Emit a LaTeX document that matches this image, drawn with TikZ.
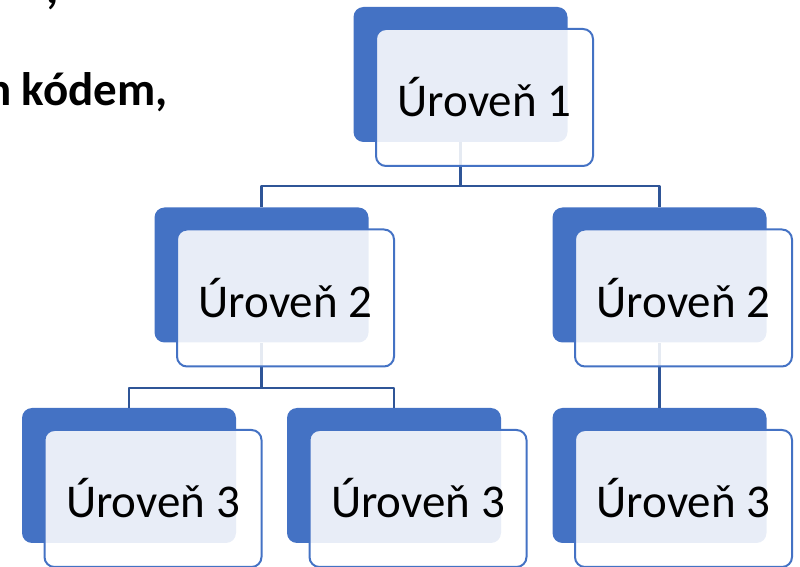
\documentclass[tikz,border=0pt]{standalone}
\usepackage{fontspec}
\setmainfont{Carlito}
\definecolor{modra}{HTML}{4472C4}
\definecolor{tmavomodra}{HTML}{2F5597}
\begin{document}
\begin{tikzpicture}[x=0.5pt, y=-0.5pt, line join=round, font=\fontsize{23.5}{28}\selectfont,
    zadni/.style={fill=modra, rounded corners=5pt, minimum width=107pt, minimum height=67.5pt, inner sep=0pt},
    predni/.style={draw=modra, line width=1pt, fill=white, fill opacity=0.88, text opacity=1,
        rounded corners=5pt, minimum width=108.5pt, minimum height=68.5pt, inner sep=0pt,
        xshift=12pt, yshift=-11.5pt},
    spoj/.style={draw=tmavomodra, line width=1.1pt}]
    \useasboundingbox (0,0) rectangle (800,567);
    \clip (0,0) rectangle (800,567);
    % zbytek textu vlevo nahore
    \node[font=\fontsize{23.5}{28}\selectfont\bfseries, anchor=base east, inner sep=0pt] (nadpis) at (168,106) {n kódem,};
    \node[font=\fontsize{23.5}{28}\selectfont\bfseries, anchor=base west, inner sep=0pt] (carka) at (46,4) {,};
    % zadni bloky
    \node[zadni] (u1z) at (460.5,74.5) {};
    \node[zadni] (u2az) at (261.5,275) {};
    \node[zadni] (u2bz) at (659.5,275) {};
    \node[zadni] (u3az) at (129,475.5) {};
    \node[zadni] (u3bz) at (394,475.5) {};
    \node[zadni] (u3cz) at (659.5,475.5) {};
    % spojnice
    \coordinate (s1) at (460.5,186);
    \coordinate (s2) at (261.5,388);
    \draw[spoj] (u1z.south) -- (s1) -| (u2az.north);
    \draw[spoj] (s1) -| (u2bz.north);
    \draw[spoj] (u2az.south) -- (s2) -| (u3az.north);
    \draw[spoj] (s2) -| (u3bz.north);
    \draw[spoj] (u2bz.south) -- (u3cz.north);
    % predni bloky s textem
    \node[predni] (u1) at (u1z) {Úroveň 1};
    \node[predni] (u2a) at (u2az) {Úroveň 2};
    \node[predni] (u2b) at (u2bz) {Úroveň 2};
    \node[predni] (u3a) at (u3az) {Úroveň 3};
    \node[predni] (u3b) at (u3bz) {Úroveň 3};
    \node[predni] (u3c) at (u3cz) {Úroveň 3};
\end{tikzpicture}
\end{document}
